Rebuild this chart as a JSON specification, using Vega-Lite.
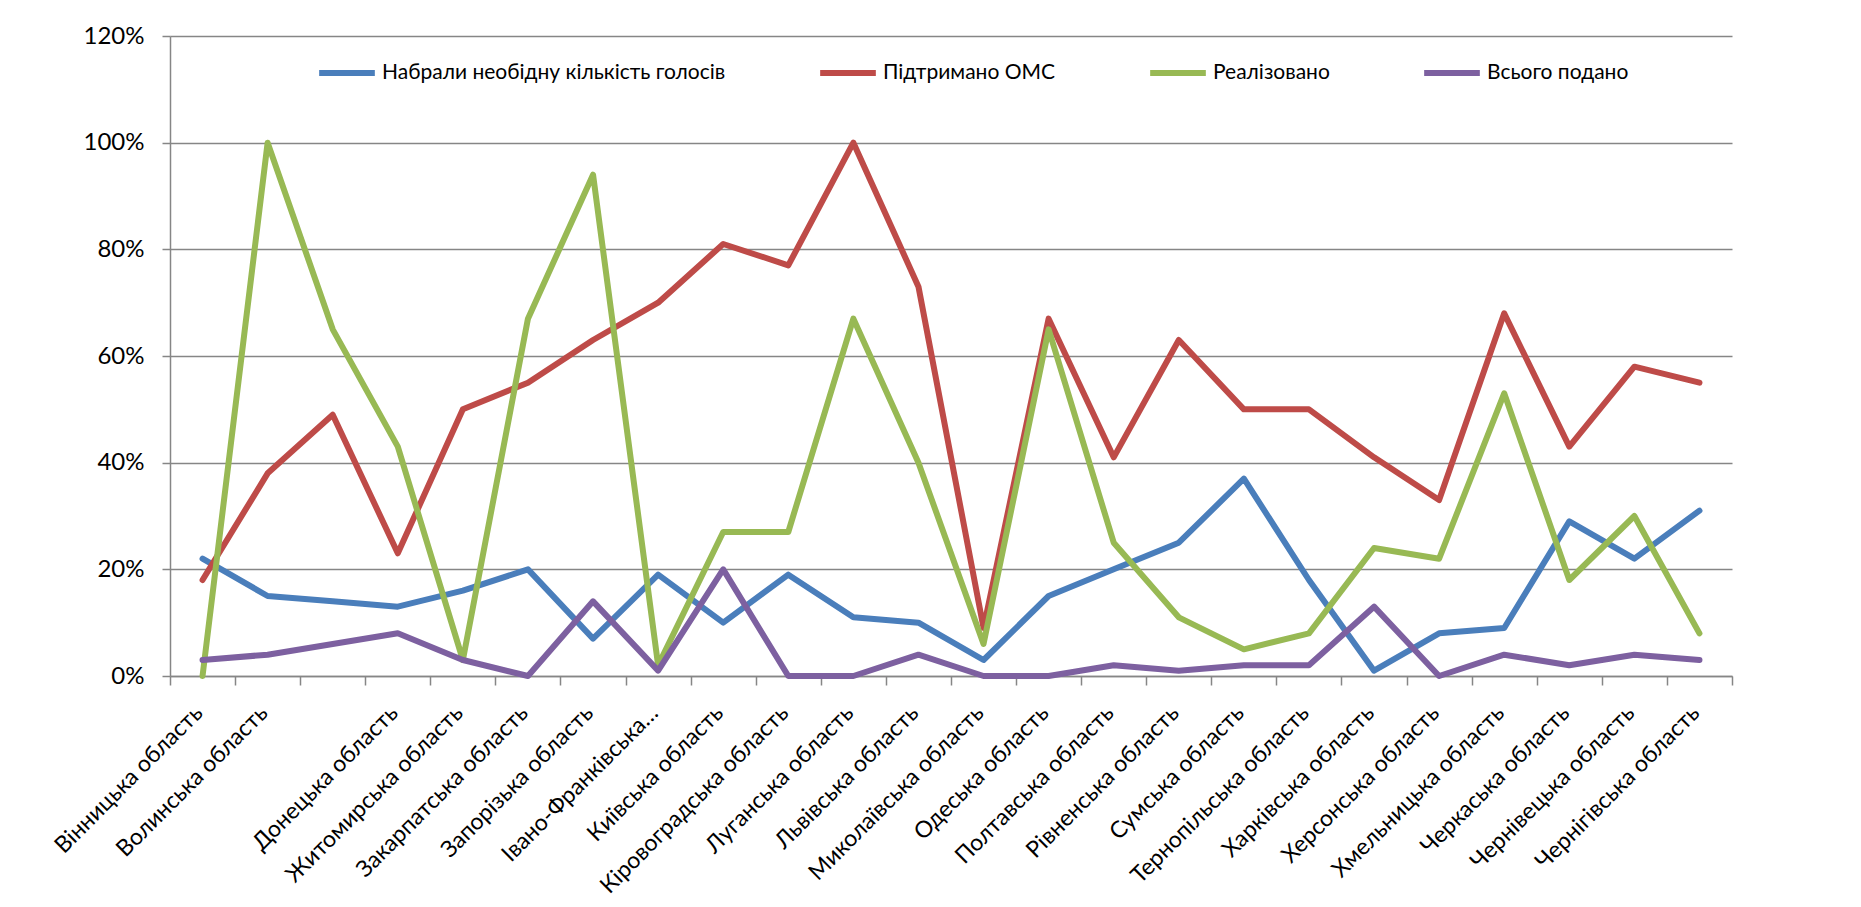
{
  "$schema": "https://vega.github.io/schema/vega-lite/v6.json",
  "width": 1562,
  "height": 640,
  "autosize": {"type": "none"},
  "padding": {"left": 170, "top": 36, "right": 129, "bottom": 231},
  "background": "white",
  "config": {
    "view": {"stroke": null},
    "font": "Lato",
    "axis": {"labelColor": "#000000", "labelFont": "Lato", "domainColor": "#868686", "tickColor": "#868686", "gridColor": "#868686", "domainWidth": 1.5, "tickWidth": 1.5, "gridWidth": 1.5}
  },
  "datasets": {
    "rows": [
      {"region": "Вінницька область", "s": "Набрали необідну кількість голосів", "v": 0.22},
      {"region": "Волинська область", "s": "Набрали необідну кількість голосів", "v": 0.15},
      {"region": " ", "s": "Набрали необідну кількість голосів", "v": 0.14},
      {"region": "Донецька область", "s": "Набрали необідну кількість голосів", "v": 0.13},
      {"region": "Житомирська область", "s": "Набрали необідну кількість голосів", "v": 0.16},
      {"region": "Закарпатська область", "s": "Набрали необідну кількість голосів", "v": 0.20},
      {"region": "Запорізька область", "s": "Набрали необідну кількість голосів", "v": 0.07},
      {"region": "Івано-Франківська…", "s": "Набрали необідну кількість голосів", "v": 0.19},
      {"region": "Київська область", "s": "Набрали необідну кількість голосів", "v": 0.10},
      {"region": "Кіровоградська область", "s": "Набрали необідну кількість голосів", "v": 0.19},
      {"region": "Луганська область", "s": "Набрали необідну кількість голосів", "v": 0.11},
      {"region": "Львівська область", "s": "Набрали необідну кількість голосів", "v": 0.10},
      {"region": "Миколаївська область", "s": "Набрали необідну кількість голосів", "v": 0.03},
      {"region": "Одеська область", "s": "Набрали необідну кількість голосів", "v": 0.15},
      {"region": "Полтавська область", "s": "Набрали необідну кількість голосів", "v": 0.20},
      {"region": "Рівненська область", "s": "Набрали необідну кількість голосів", "v": 0.25},
      {"region": "Сумська область", "s": "Набрали необідну кількість голосів", "v": 0.37},
      {"region": "Тернопільська область", "s": "Набрали необідну кількість голосів", "v": 0.18},
      {"region": "Харківська область", "s": "Набрали необідну кількість голосів", "v": 0.01},
      {"region": "Херсонська область", "s": "Набрали необідну кількість голосів", "v": 0.08},
      {"region": "Хмельницька область", "s": "Набрали необідну кількість голосів", "v": 0.09},
      {"region": "Черкаська область", "s": "Набрали необідну кількість голосів", "v": 0.29},
      {"region": "Чернівецька область", "s": "Набрали необідну кількість голосів", "v": 0.22},
      {"region": "Чернігівська область", "s": "Набрали необідну кількість голосів", "v": 0.31},

      {"region": "Вінницька область", "s": "Підтримано ОМС", "v": 0.18},
      {"region": "Волинська область", "s": "Підтримано ОМС", "v": 0.38},
      {"region": " ", "s": "Підтримано ОМС", "v": 0.49},
      {"region": "Донецька область", "s": "Підтримано ОМС", "v": 0.23},
      {"region": "Житомирська область", "s": "Підтримано ОМС", "v": 0.50},
      {"region": "Закарпатська область", "s": "Підтримано ОМС", "v": 0.55},
      {"region": "Запорізька область", "s": "Підтримано ОМС", "v": 0.63},
      {"region": "Івано-Франківська…", "s": "Підтримано ОМС", "v": 0.70},
      {"region": "Київська область", "s": "Підтримано ОМС", "v": 0.81},
      {"region": "Кіровоградська область", "s": "Підтримано ОМС", "v": 0.77},
      {"region": "Луганська область", "s": "Підтримано ОМС", "v": 1.00},
      {"region": "Львівська область", "s": "Підтримано ОМС", "v": 0.73},
      {"region": "Миколаївська область", "s": "Підтримано ОМС", "v": 0.09},
      {"region": "Одеська область", "s": "Підтримано ОМС", "v": 0.67},
      {"region": "Полтавська область", "s": "Підтримано ОМС", "v": 0.41},
      {"region": "Рівненська область", "s": "Підтримано ОМС", "v": 0.63},
      {"region": "Сумська область", "s": "Підтримано ОМС", "v": 0.50},
      {"region": "Тернопільська область", "s": "Підтримано ОМС", "v": 0.50},
      {"region": "Харківська область", "s": "Підтримано ОМС", "v": 0.41},
      {"region": "Херсонська область", "s": "Підтримано ОМС", "v": 0.33},
      {"region": "Хмельницька область", "s": "Підтримано ОМС", "v": 0.68},
      {"region": "Черкаська область", "s": "Підтримано ОМС", "v": 0.43},
      {"region": "Чернівецька область", "s": "Підтримано ОМС", "v": 0.58},
      {"region": "Чернігівська область", "s": "Підтримано ОМС", "v": 0.55},

      {"region": "Вінницька область", "s": "Реалізовано", "v": 0.0},
      {"region": "Волинська область", "s": "Реалізовано", "v": 1.00},
      {"region": " ", "s": "Реалізовано", "v": 0.65},
      {"region": "Донецька область", "s": "Реалізовано", "v": 0.43},
      {"region": "Житомирська область", "s": "Реалізовано", "v": 0.03},
      {"region": "Закарпатська область", "s": "Реалізовано", "v": 0.67},
      {"region": "Запорізька область", "s": "Реалізовано", "v": 0.94},
      {"region": "Івано-Франківська…", "s": "Реалізовано", "v": 0.02},
      {"region": "Київська область", "s": "Реалізовано", "v": 0.27},
      {"region": "Кіровоградська область", "s": "Реалізовано", "v": 0.27},
      {"region": "Луганська область", "s": "Реалізовано", "v": 0.67},
      {"region": "Львівська область", "s": "Реалізовано", "v": 0.40},
      {"region": "Миколаївська область", "s": "Реалізовано", "v": 0.06},
      {"region": "Одеська область", "s": "Реалізовано", "v": 0.65},
      {"region": "Полтавська область", "s": "Реалізовано", "v": 0.25},
      {"region": "Рівненська область", "s": "Реалізовано", "v": 0.11},
      {"region": "Сумська область", "s": "Реалізовано", "v": 0.05},
      {"region": "Тернопільська область", "s": "Реалізовано", "v": 0.08},
      {"region": "Харківська область", "s": "Реалізовано", "v": 0.24},
      {"region": "Херсонська область", "s": "Реалізовано", "v": 0.22},
      {"region": "Хмельницька область", "s": "Реалізовано", "v": 0.53},
      {"region": "Черкаська область", "s": "Реалізовано", "v": 0.18},
      {"region": "Чернівецька область", "s": "Реалізовано", "v": 0.30},
      {"region": "Чернігівська область", "s": "Реалізовано", "v": 0.08},

      {"region": "Вінницька область", "s": "Всього подано", "v": 0.03},
      {"region": "Волинська область", "s": "Всього подано", "v": 0.04},
      {"region": " ", "s": "Всього подано", "v": 0.06},
      {"region": "Донецька область", "s": "Всього подано", "v": 0.08},
      {"region": "Житомирська область", "s": "Всього подано", "v": 0.03},
      {"region": "Закарпатська область", "s": "Всього подано", "v": 0.0},
      {"region": "Запорізька область", "s": "Всього подано", "v": 0.14},
      {"region": "Івано-Франківська…", "s": "Всього подано", "v": 0.01},
      {"region": "Київська область", "s": "Всього подано", "v": 0.20},
      {"region": "Кіровоградська область", "s": "Всього подано", "v": 0.0},
      {"region": "Луганська область", "s": "Всього подано", "v": 0.0},
      {"region": "Львівська область", "s": "Всього подано", "v": 0.04},
      {"region": "Миколаївська область", "s": "Всього подано", "v": 0.0},
      {"region": "Одеська область", "s": "Всього подано", "v": 0.0},
      {"region": "Полтавська область", "s": "Всього подано", "v": 0.02},
      {"region": "Рівненська область", "s": "Всього подано", "v": 0.01},
      {"region": "Сумська область", "s": "Всього подано", "v": 0.02},
      {"region": "Тернопільська область", "s": "Всього подано", "v": 0.02},
      {"region": "Харківська область", "s": "Всього подано", "v": 0.13},
      {"region": "Херсонська область", "s": "Всього подано", "v": 0.0},
      {"region": "Хмельницька область", "s": "Всього подано", "v": 0.04},
      {"region": "Черкаська область", "s": "Всього подано", "v": 0.02},
      {"region": "Чернівецька область", "s": "Всього подано", "v": 0.04},
      {"region": "Чернігівська область", "s": "Всього подано", "v": 0.03}
    ]
  },
  "data": {"name": "rows"},
  "mark": {"type": "line", "strokeWidth": 6, "strokeJoin": "round", "strokeCap": "round"},
  "encoding": {
    "x": {
      "field": "region", "type": "nominal", "sort": null, "bandPosition": 0.5,
      "scale": {"type": "band", "paddingInner": 0, "paddingOuter": 0},
      "axis": {"title": null, "labelAngle": -45, "labelAlign": "right", "labelBaseline": "middle", "labelFontSize": 23, "labelPadding": 24, "labelOffset": -4, "tickBand": "extent", "tickSize": 9, "grid": false, "labelOverlap": false, "labelLimit": 500}
    },
    "y": {
      "field": "v", "type": "quantitative",
      "scale": {"domain": [0, 1.2], "nice": false},
      "axis": {"title": null, "format": ".0%", "values": [0, 0.2, 0.4, 0.6, 0.8, 1.0, 1.2], "labelFontSize": 24, "tickSize": 8, "labelPadding": 18, "grid": true}
    },
    "color": {
      "field": "s", "type": "nominal",
      "scale": {"domain": ["Набрали необідну кількість голосів", "Підтримано ОМС", "Реалізовано", "Всього подано"], "range": ["#4A7EBB", "#BE4B48", "#98B954", "#7D60A0"]},
      "legend": {"title": null, "orient": "none", "direction": "horizontal", "legendX": 146, "legendY": 6, "columns": 4, "columnPadding": 82, "symbolType": "stroke", "symbolSize": 3100, "symbolStrokeWidth": 6, "labelFontSize": 21, "labelColor": "#000000", "labelOffset": 4, "labelLimit": 600}
    }
  }
}
